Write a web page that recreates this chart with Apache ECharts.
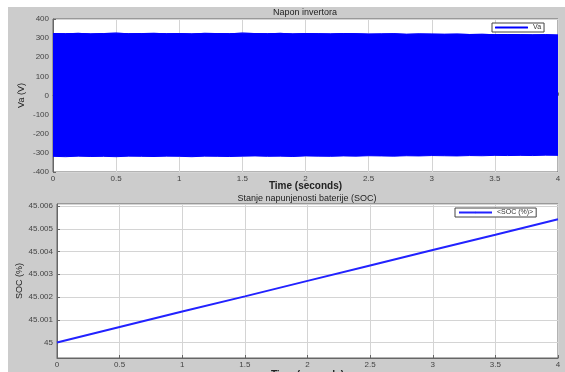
<!DOCTYPE html>
<html>
<head>
<meta charset="utf-8">
<script src="https://cdn.jsdelivr.net/npm/echarts@6/dist/echarts.min.js"></script>
<style>
html,body{margin:0;padding:0;background:#fff;}
#c{width:565px;height:372px;}
</style>
</head>
<body>
<div id="c"></div>
<script>
// Top plot: inverter voltage Va, envelope of the dense 50 Hz waveform (peaks)
var vaTimes = [0,0.1,0.2,0.3,0.4,0.5,0.6,0.7,0.8,0.9,1.0,1.1,1.2,1.3,1.4,1.5,1.6,1.7,1.8,1.9,2.0,2.1,2.2,2.3,2.4,2.5,2.6,2.7,2.8,2.9,3.0,3.1,3.2,3.3,3.4,3.5,3.6,3.7,3.8,3.9,4.0];
var vaUpper = [324,323,325,322,324,326,323,324,325,323,324,322,325,324,323,326,324,323,325,322,324,323,322,324,323,321,322,323,320,322,321,320,321,319,320,318,319,318,317,318,316];
var vaLower = [-318,-320,-317,-319,-318,-320,-317,-318,-319,-317,-318,-320,-317,-318,-319,-317,-316,-318,-317,-319,-316,-317,-318,-316,-317,-315,-316,-317,-315,-316,-314,-315,-316,-314,-315,-313,-314,-313,-314,-312,-313];

// Bottom plot: battery state of charge
var socTimes = [0,0.5,1,1.5,2,2.5,3,3.5,4];
var socValues = [45.0,45.00068,45.00136,45.00203,45.00271,45.00339,45.00407,45.00474,45.00542];

var chart = echarts.init(document.getElementById('c'), null, {renderer:'canvas'});

function pairs(xs, ys){ return xs.map(function(x,i){ return [x, ys[i]]; }); }

var FONT = 'Liberation Sans, Arial, sans-serif';
var labelStyle = {color:'#444', fontSize:8, fontFamily:FONT};
var blue = '#0000ff';

function xAxisCfg(gi, nameGap){
  return {
    type:'value', gridIndex:gi, min:0, max:4, interval:0.5,
    name:'Time (seconds)', nameLocation:'middle', nameGap:nameGap, nameMoveOverlap:false,
    nameTextStyle:{color:'#222', fontSize:10, fontFamily:FONT, fontWeight:'bold'},
    axisLine:{show:true, lineStyle:{color:'#666', width:1}},
    axisTick:{show:true, inside:true, length:3, lineStyle:{color:'#666'}},
    axisLabel:Object.assign({margin:3, formatter:function(v){ return String(+v.toFixed(1)); }}, labelStyle),
    splitLine:{show:true, lineStyle:{color:'#d4d4d4', width:1}}
  };
}

// envelope polygon: upper peaks left→right, then lower peaks right→left, mapped through the axes
function renderEnvelope(params, api){
  var pts = [];
  for (var i = 0; i < vaTimes.length; i++) pts.push(api.coord([vaTimes[i], vaUpper[i]]));
  for (var j = vaTimes.length - 1; j >= 0; j--) pts.push(api.coord([vaTimes[j], vaLower[j]]));
  return {type:'polygon', shape:{points:pts}, style:{fill:blue, stroke:blue, lineWidth:1}};
}

var option = {
  backgroundColor:'#cccccc',
  animation:false,
  graphic:[
    {type:'rect', shape:{x:0,y:0,width:565,height:7}, style:{fill:'#ffffff'}, silent:true},
    {type:'rect', shape:{x:0,y:0,width:8,height:372}, style:{fill:'#ffffff'}, silent:true}
  ],
  title:[
    {text:'Napon invertora', left:305, top:8, textAlign:'center',
     textStyle:{fontSize:9, fontWeight:'normal', color:'#222', fontFamily:FONT}, padding:0},
    {text:'Stanje napunjenosti baterije (SOC)', left:307, top:194, textAlign:'center',
     textStyle:{fontSize:9, fontWeight:'normal', color:'#222', fontFamily:FONT}, padding:0}
  ],
  legend:[
    {data:['Va'], left:492, top:23, orient:'horizontal', itemWidth:33, itemHeight:2, itemGap:4,
     padding:[1,3,1,3], backgroundColor:'#fff', borderColor:'#444', borderWidth:1, borderRadius:0,
     textStyle:{fontSize:7, color:'#333', fontFamily:FONT}},
    {data:['<SOC (%)>'], left:455, top:208, orient:'horizontal', itemWidth:33, itemHeight:2, itemGap:4,
     padding:[1,3,1,3], backgroundColor:'#fff', borderColor:'#444', borderWidth:1, borderRadius:0,
     textStyle:{fontSize:7, color:'#333', fontFamily:FONT}}
  ],
  grid:[
    {left:53, top:19, width:505, height:153, show:true, backgroundColor:'#ffffff', borderColor:'#666', borderWidth:1,
     containLabel:false, outerBoundsMode:'none'},
    {left:57, top:204, width:501, height:154, show:true, backgroundColor:'#ffffff', borderColor:'#666', borderWidth:1,
     containLabel:false, outerBoundsMode:'none'}
  ],
  xAxis:[ xAxisCfg(0, 9), xAxisCfg(1, 12) ],
  yAxis:[
    {type:'value', gridIndex:0, min:-400, max:400, interval:100,
     name:'Va (V)', nameLocation:'middle', nameGap:27, nameMoveOverlap:false,
     nameTextStyle:{color:'#222', fontSize:9, fontFamily:FONT},
     axisLine:{show:true, lineStyle:{color:'#666'}},
     axisTick:{show:true, inside:true, length:3, lineStyle:{color:'#666'}},
     axisLabel:Object.assign({margin:4}, labelStyle),
     splitLine:{show:true, lineStyle:{color:'#d4d4d4'}}},
    {type:'value', gridIndex:1, min:44.99932, max:45.00609, splitNumber:7,
     name:'SOC (%)', nameLocation:'middle', nameGap:33, nameMoveOverlap:false,
     nameTextStyle:{color:'#222', fontSize:9, fontFamily:FONT},
     axisLine:{show:true, lineStyle:{color:'#666'}},
     axisTick:{show:true, inside:true, length:3, lineStyle:{color:'#666'}},
     axisLabel:Object.assign({margin:4, showMinLabel:false, showMaxLabel:false,
       formatter:function(v){ return String(+v.toFixed(3)); }}, labelStyle),
     splitLine:{show:true, lineStyle:{color:'#d4d4d4'}}}
  ],
  series:[
    {name:'Va', type:'custom', xAxisIndex:0, yAxisIndex:0, data:[[0, 0]],
     renderItem:renderEnvelope, itemStyle:{color:blue}, z:3, clip:true},
    {name:'Va', type:'line', xAxisIndex:0, yAxisIndex:0, data:pairs(vaTimes, vaUpper),
     symbol:'none', lineStyle:{color:blue, width:1}, itemStyle:{color:blue}, z:4},
    {name:'<SOC (%)>', type:'line', xAxisIndex:1, yAxisIndex:1, data:pairs(socTimes, socValues),
     symbol:'none', lineStyle:{color:'#2222ff', width:2}, itemStyle:{color:'#2222ff'}, z:3}
  ]
};
chart.setOption(option);
</script>
</body>
</html>
